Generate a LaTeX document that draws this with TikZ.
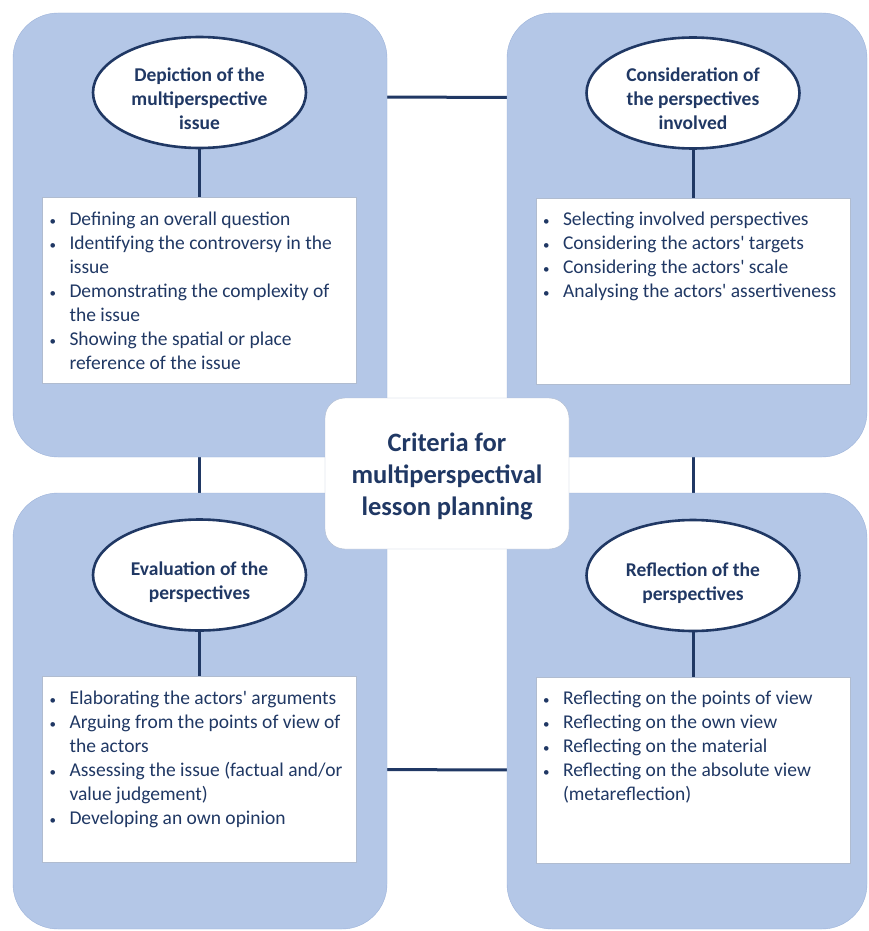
\documentclass[tikz,border=0pt]{standalone}
\usepackage{fontspec}
\setmainfont{Carlito}
\usepackage{enumitem}
\usetikzlibrary{shapes.geometric, positioning, backgrounds}

\definecolor{panelblue}{HTML}{B4C7E7}
\definecolor{panelline}{HTML}{9CB2D9}
\definecolor{navy}{HTML}{203864}
\definecolor{boxline}{HTML}{B0BCD0}

\setlist[itemize]{label={\fontsize{13}{13}\selectfont\textbullet}, leftmargin=27pt,
  labelsep=12pt, labelwidth=8pt, align=left, itemsep=0pt, parsep=0pt, topsep=0pt,
  partopsep=0pt}

\newcommand{\pointlist}[1]{%
  \begin{minipage}[t][186pt][t]{314pt}\raggedright
    \vspace*{14pt}
    \begin{itemize}#1\end{itemize}
  \end{minipage}}
% text set a little lower than the middle of its shape
\newcommand{\lowtext}[2]{\raisebox{-#1}[\height][\depth]{\begin{tabular}{@{}c@{}}#2\end{tabular}}}
\newcommand{\q}{\textquotesingle}

\tikzset{
  panel/.style={draw=panelline, fill=panelblue, rounded corners=45pt, inner sep=0pt},
  stage/.style={ellipse, draw=navy, line width=2.6pt, fill=white, inner sep=0pt,
    minimum width=213pt, minimum height=111pt, text=navy,
    font=\fontsize{19.5}{24}\selectfont\bfseries},
  listbox/.style={rectangle, draw=boxline, fill=white, inner sep=0pt, text=navy,
    font=\fontsize{19.5}{24}\selectfont},
  link/.style={draw=navy, line width=3pt}
}

\begin{document}
\begin{tikzpicture}[x=1pt, y=-1pt]
    \useasboundingbox (0,0) rectangle (868,931);

    % the four blue panels
    \node[panel, minimum width=374pt, minimum height=444pt] (ptl) at (200,235) {};
    \node[panel, minimum width=360pt, minimum height=444pt] (ptr) at (687,235) {};
    \node[panel, minimum width=374pt, minimum height=436pt] (pbl) at (200,711) {};
    \node[panel, minimum width=360pt, minimum height=436pt] (pbr) at (687,711) {};

    % middle
    \node[draw=boxline, fill=white, rounded corners=20pt, minimum width=244pt,
      minimum height=151pt, text=navy,
      font=\fontsize{26.5}{32}\selectfont\bfseries] (crit) at (447,473.5)
      {\lowtext{4pt}{Criteria for\\multiperspectival\\lesson planning}};

    % headings
    \node[stage] (e1) at (199.5,92.5) {\lowtext{8pt}{Depiction of the\\multiperspective\\issue}};
    \node[stage] (e2) at (693,93) {\lowtext{8pt}{Consideration of\\the perspectives\\involved}};
    \node[stage] (e3) at (199.5,575) {\lowtext{8pt}{Evaluation of the\\perspectives}};
    \node[stage] (e4) at (693,575.5) {\lowtext{8pt}{Reflection of the\\perspectives}};

    % lists
    \node[listbox, below=48pt of e1] (l1) {\pointlist{
      \item Defining an overall question
      \item Identifying the controversy in the issue
      \item Demonstrating the complexity of the issue
      \item Showing the spatial or place reference of the issue}};
    \node[listbox, below=48pt of e2] (l2) {\pointlist{
      \item Selecting involved perspectives
      \item Considering the actors\q{} targets
      \item Considering the actors\q{} scale
      \item Analysing the actors\q{} assertiveness}};
    \node[listbox, below=44.5pt of e3] (l3) {\pointlist{
      \item Elaborating the actors\q{} arguments
      \item Arguing from the points of view of the actors
      \item Assessing the issue (factual and/or value judgement)
      \item Developing an own opinion}};
    \node[listbox, below=44.5pt of e4] (l4) {\pointlist{
      \item Reflecting on the points of view
      \item Reflecting on the own view
      \item Reflecting on the material
      \item Reflecting on the absolute view (metareflection)}};

    \draw[link] (e1) -- (l1);
    \draw[link] (e2) -- (l2);
    \draw[link] (e3) -- (l3);
    \draw[link] (e4) -- (l4);

    % links between the panels
    \begin{pgfonlayer}{background}
      \draw[link] ([yshift=-4.5pt]e1.east) -- ([yshift=-4.5pt]e2.west);
      \draw[link] (e1) -- (e3);
      \draw[link] (e2) -- (e4);
      \draw[link] (l3) -- (l4);
    \end{pgfonlayer}
\end{tikzpicture}
\end{document}
